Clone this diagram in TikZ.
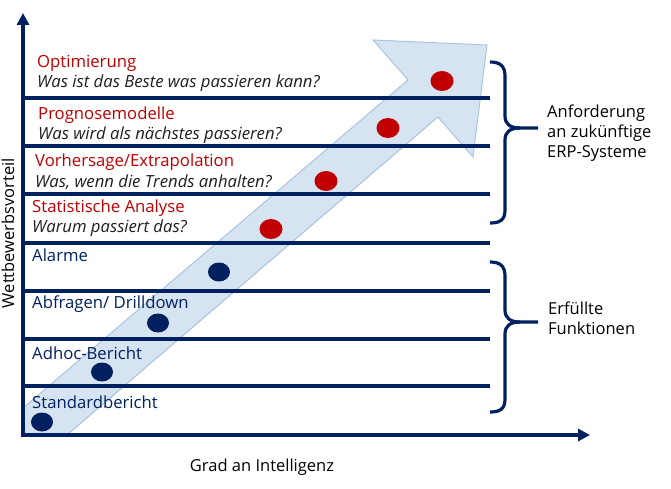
\documentclass[tikz,border=0pt]{standalone}
\usepackage{fontspec}
\setmainfont{Open Sans}
\usetikzlibrary{arrows.meta,shapes.geometric}
\definecolor{navy}{RGB}{0,32,96}
\definecolor{dred}{RGB}{192,0,0}
\definecolor{bandfill}{RGB}{214,228,242}
\definecolor{bandline}{RGB}{170,196,224}
\definecolor{qtext}{RGB}{30,30,30}
\tikzset{
  lvl/.style={draw=navy, line width=3.2pt},
  axis/.style={draw=navy, line width=3.6pt, -{Triangle[length=12pt,width=12pt]}},
  brace/.style={draw=navy, line width=3.2pt},
  redlbl/.style={anchor=west, inner sep=0pt, text=dred, font=\fontsize{16.7}{19}\selectfont},
  qlbl/.style={anchor=west, inner sep=0pt, text=qtext, font=\fontsize{16.7}{19}\selectfont\itshape},
  navylbl/.style={anchor=west, inner sep=0pt, text=navy, font=\fontsize{16.7}{19}\selectfont},
  sidelbl/.style={anchor=west, inner sep=0pt, align=left, text=black, font=\fontsize{16.5}{20}\selectfont},
  rdot/.style={fill=dred, ellipse, minimum width=23pt, minimum height=20pt, inner sep=0pt},
  ndot/.style={fill=navy, ellipse, minimum width=22pt, minimum height=19pt, inner sep=0pt},
}
\begin{document}
\begin{tikzpicture}[x=1pt, y=-1pt]
\useasboundingbox (0,0) rectangle (671,489);
% band arrow
\path[fill=bandfill, draw=bandline, line width=1pt, line join=miter]
  (23,435) -- (67,435) -- (438,117) -- (473,157) -- (487,45) -- (373,40) -- (408,80) -- (23,408) -- cycle;
% level lines
\foreach \yy in {98,146,194,243,291,339,386} {
  \draw[lvl] (23,\yy) -- (490,\yy);
}
% axes
\coordinate (origin) at (23,435);
\coordinate (ytip) at (23,13);
\coordinate (xtip) at (590,435);
\draw[axis] (origin) -- (ytip);
\draw[axis] ([xshift=-1.8pt]origin) -- (xtip);
% labels
\node[redlbl] (opt) at (37,63) {Optimierung};
\node[qlbl] (optq) at (37,83) {Was ist das Beste was passieren kann?};
\node[redlbl] (prog) at (38,115) {Prognosemodelle};
\node[qlbl] (progq) at (38,135) {Was wird als nächstes passieren?};
\node[redlbl] (vor) at (35,162) {Vorhersage/Extrapolation};
\node[qlbl] (vorq) at (35,182) {Was, wenn die Trends anhalten?};
\node[redlbl] (stat) at (32,208) {Statistische Analyse};
\node[qlbl] (statq) at (32,228) {Warum passiert das?};
\node[navylbl] (alarm) at (32,255) {Alarme};
\node[navylbl] (abf) at (32,304) {Abfragen/ Drilldown};
\node[navylbl] (adhoc) at (32,353) {Adhoc-Bericht};
\node[navylbl] (std) at (32,402) {Standardbericht};
% dots
\node[rdot] (d8) at (442,81) {};
\node[rdot] (d7) at (388,128) {};
\node[rdot] (d6) at (326,181) {};
\node[rdot] (d5) at (271,229) {};
\node[ndot] (d4) at (219,272) {};
\node[ndot] (d3) at (158,323) {};
\node[ndot] (d2) at (102,372) {};
\node[ndot] (d1) at (42,422) {};
% braces
\draw[brace] (490,62) .. controls (500,62) and (505,66) .. (505,76) -- (505,116) .. controls (505,124) and (510,128) .. (520,128) -- (538,128);
\draw[brace] (520,128) .. controls (510,128) and (505,132) .. (505,140) -- (505,210) .. controls (505,220) and (500,223) .. (490,223);
\draw[brace] (490,262) .. controls (500,262) and (505,266) .. (505,276) -- (505,310) .. controls (505,318) and (510,322) .. (520,322) -- (538,322);
\draw[brace] (520,322) .. controls (510,322) and (505,326) .. (505,334) -- (505,399) .. controls (505,409) and (500,412) .. (490,412);
\node[sidelbl] (anf) at (547,133) {Anforderung\\an zukünftige\\ERP-Systeme};
\node[sidelbl] (erf) at (548,318) {Erfüllte\\Funktionen};
% axis titles
\node[inner sep=0pt, font=\fontsize{16.5}{19}\selectfont] (xlbl) at (262,467) {Grad an Intelligenz};
\node[inner sep=0pt, rotate=90, font=\fontsize{16.5}{19}\selectfont] (ylbl) at (8,233) {Wettbewerbsvorteil};
\end{tikzpicture}
\end{document}
